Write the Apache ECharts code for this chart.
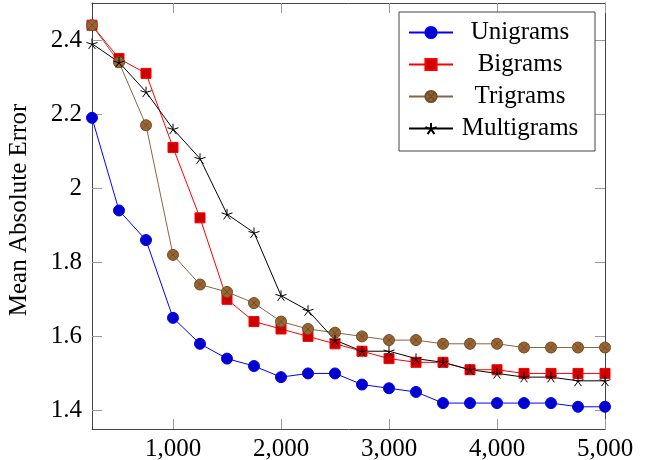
<!DOCTYPE html>
<html>
<head>
<meta charset="utf-8">
<script src="https://cdn.jsdelivr.net/npm/echarts@6/dist/echarts.min.js"></script>
<style>html,body{margin:0;padding:0;background:#fff}#c{width:647px;height:460px}</style>
</head>
<body>
<div id="c"></div>
<script>
const xValues = [250,500,750,1000,1250,1500,1750,2000,2250,2500,2750,3000,3250,3500,3750,4000,4250,4500,4750,5000];
const unigrams   = [2.19,1.94,1.86,1.65,1.58,1.54,1.52,1.49,1.50,1.50,1.47,1.46,1.45,1.42,1.42,1.42,1.42,1.42,1.41,1.41];
const bigrams    = [2.44,2.35,2.31,2.11,1.92,1.70,1.64,1.62,1.60,1.58,1.56,1.54,1.53,1.53,1.51,1.51,1.50,1.50,1.50,1.50];
const trigrams   = [2.44,2.34,2.17,1.82,1.74,1.72,1.69,1.64,1.62,1.61,1.60,1.59,1.59,1.58,1.58,1.58,1.57,1.57,1.57,1.57];
const multigrams = [2.39,2.34,2.26,2.16,2.08,1.93,1.88,1.71,1.67,1.59,1.56,1.56,1.54,1.53,1.51,1.50,1.49,1.49,1.48,1.48];
const seriesNames = ['Unigrams','Bigrams','Trigrams','Multigrams'];
const xTicks = [1000,2000,3000,4000,5000];
const yTicks = [1.4,1.6,1.8,2,2.2,2.4];
const yTitle = 'Mean Absolute Error';

const pair = arr => xValues.map((x,i)=>[x,arr[i]]);
const serif = 'Liberation Serif, Times New Roman, serif';
const otimes = 'path://M10,0 A10,10 0 1,1 -10,0 A10,10 0 1,1 10,0 Z M7.07,7.07 L-7.07,-7.07 M-7.07,7.07 L7.07,-7.07';
const star = 'path://M0,0 L0,-10 M0,0 L9.51,-3.09 M0,0 L-9.51,-3.09 M0,0 L-5.88,8.09 M0,0 L5.88,8.09';
const axisCol = '#444';
const tickCol = '#999';

function xAx(pos, labels){
  return {type:'value', position:pos, min:250, max:5000,
    axisLine:{show:true, onZero:false, lineStyle:{color:axisCol, width:1}},
    axisTick:{show:true, inside:true, length:10, customValues:xTicks, lineStyle:{color:tickCol}},
    axisLabel:{show:labels, customValues:xTicks, margin:8, color:'#000', fontFamily:serif, fontSize:25,
      formatter:v=>Math.round(v).toLocaleString('en-US')},
    splitLine:{show:false}};
}
function yAx(pos, labels){
  return {type:'value', position:pos, min:1.35, max:2.5,
    axisLine:{show:true, onZero:false, lineStyle:{color:axisCol, width:1}},
    axisTick:{show:true, inside:true, length:10, customValues:yTicks, lineStyle:{color:tickCol}},
    axisLabel:{show:labels, customValues:yTicks, margin:10, color:'#000', fontFamily:serif, fontSize:25},
    splitLine:{show:false},
    name: labels ? yTitle : '', nameLocation:'middle', nameGap:60,
    nameTextStyle:{color:'#000', fontFamily:serif, fontSize:25, padding:[0,0,0,12]}};
}

const chart = echarts.init(document.getElementById('c'), null, {renderer:'canvas'});
chart.setOption({
  animation:false,
  backgroundColor:'#fff',
  grid:{left:92, right:42, top:3, bottom:31, outerBoundsMode:'none'},
  xAxis:[xAx('bottom', true), xAx('top', false)],
  yAxis:[yAx('left', true), yAx('right', false)],
  legend:{
    data:seriesNames, orient:'vertical', left:399, top:12,
    padding:[8,13,10,9], itemWidth:44, itemHeight:14, itemGap:7,
    borderColor:axisCol, borderWidth:1, backgroundColor:'#fff',
    selectedMode:false,
    formatter:'{t|{name}}',
    textStyle:{color:'#000', fontFamily:serif, fontSize:25, lineHeight:25,
      rich:{t:{width:124, align:'center', fontFamily:serif, fontSize:25, lineHeight:25, color:'#000'}}}
  },
  series:[
    {name:'Unigrams', type:'line', data:pair(unigrams), symbol:'circle', symbolSize:11,
      lineStyle:{color:'#0000ff', width:1}, itemStyle:{color:'#0000cc', borderColor:'#0000ff', borderWidth:1}},
    {name:'Bigrams', type:'line', data:pair(bigrams), symbol:'rect', symbolSize:10,
      lineStyle:{color:'#ff0000', width:1}, itemStyle:{color:'#cc0000', borderColor:'#ff0000', borderWidth:1}},
    {name:'Trigrams', type:'line', data:pair(trigrams), symbol:otimes, symbolSize:11,
      lineStyle:{color:'#8a6440', width:1}, itemStyle:{color:'#996633', borderColor:'#734d26', borderWidth:1}},
    {name:'Multigrams', type:'line', data:pair(multigrams), symbol:star, symbolSize:11, symbolKeepAspect:true,
      lineStyle:{color:'#000', width:1}, itemStyle:{color:'#000', borderColor:'#000', borderWidth:1}}
  ].map(s=>Object.assign(s,{emphasis:{disabled:true}, silent:true}))
});
</script>
</body>
</html>
